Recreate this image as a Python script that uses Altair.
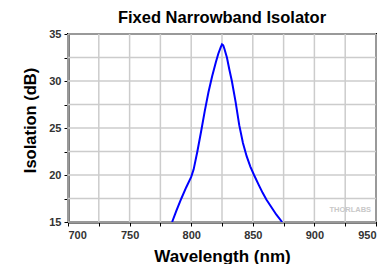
import altair as alt
import pandas as pd

wavelength = [784.5, 788, 792, 796, 800, 802, 805, 808, 811, 814, 817, 820, 822, 824, 825, 826,
              827, 829, 831, 833, 836, 839, 842, 845, 848, 851, 855, 858, 861, 865, 869, 873.8]
isolation = [15.0, 16.2, 17.5, 18.7, 19.8, 20.6, 22.5, 24.6, 26.8, 28.8, 30.5, 32.0, 32.9, 33.6, 33.9, 33.8,
             33.4, 32.5, 31.2, 30.0, 27.8, 25.3, 23.4, 22.0, 20.9, 20.0, 18.9, 18.1, 17.4, 16.6, 15.8, 15.0]

x_grid = list(range(700, 951, 25))
y_grid = [15 + 2.5 * i for i in range(9)]

df = pd.DataFrame({"wl": wavelength, "iso": isolation})
wm = pd.DataFrame({"wl": [946], "iso": [16.3], "t": ["THORLABS"]})
gx = pd.DataFrame({"wl": x_grid})
gy = pd.DataFrame({"iso": y_grid})

label_font = "Arial, Liberation Sans, sans-serif"

xs = alt.Scale(domain=[700, 950], nice=False)
ys = alt.Scale(domain=[15, 35], nice=False)

xaxis = alt.Axis(values=x_grid, grid=False,
                 labelExpr="datum.value % 50 == 0 ? datum.label : ''", format="d",
                 titleY=39, titleBaseline="alphabetic")
yaxis = alt.Axis(values=y_grid, grid=False,
                 labelExpr="datum.value % 5 == 0 ? datum.label : ''", format="d",
                 titleX=-33, titleY=86, titleBaseline="alphabetic")

grid_x = alt.Chart(gx).mark_rule(color="#cccccc", strokeWidth=1.5).encode(
    x=alt.X("wl:Q", scale=xs, title="Wavelength (nm)", axis=xaxis)
)
grid_y = alt.Chart(gy).mark_rule(color="#cccccc", strokeWidth=1.5).encode(
    y=alt.Y("iso:Q", scale=ys, title="Isolation (dB)", axis=yaxis)
)

line = alt.Chart(df).mark_line(color="#0000FF", strokeWidth=2, clip=True).encode(
    x=alt.X("wl:Q", scale=xs, title="Wavelength (nm)", axis=xaxis),
    y=alt.Y("iso:Q", scale=ys, title="Isolation (dB)", axis=yaxis),
)

text = alt.Chart(wm).mark_text(align="right", baseline="middle", fontSize=7.5, fontWeight="bold",
                               color="#c8c8c8", font=label_font).encode(
    x=alt.X("wl:Q", scale=xs, title="Wavelength (nm)", axis=xaxis),
    y=alt.Y("iso:Q", scale=ys, title="Isolation (dB)", axis=yaxis),
    text="t:N"
)

chart = alt.layer(grid_x, grid_y, text, line).properties(
    width=308, height=188,
    title=alt.TitleParams("Fixed Narrowband Isolator", fontSize=16.5, fontWeight="bold",
                          font=label_font, color="#000000", anchor="middle", offset=2,
                          frame="group"),
    autosize=alt.AutoSizeParams(type="none"),
    padding={"left": 60, "top": 26, "right": 6, "bottom": 48},
).configure_view(
    stroke="#000000", strokeWidth=2
).configure_axis(
    domain=True, domainColor="#000000", domainWidth=2,
    tickColor="#000000", tickSize=4, tickWidth=1,
    labelFont=label_font, labelFontSize=11, labelFontWeight="bold", labelColor="#333333",
    titleFont=label_font, titleFontWeight="bold", titleColor="#000000",
).configure_axisX(
    labelPadding=3, titleFontSize=17
).configure_axisY(
    labelPadding=3, titleFontSize=16.5
)

chart.save("out.html", embed_options={"renderer": "svg", "actions": False})
